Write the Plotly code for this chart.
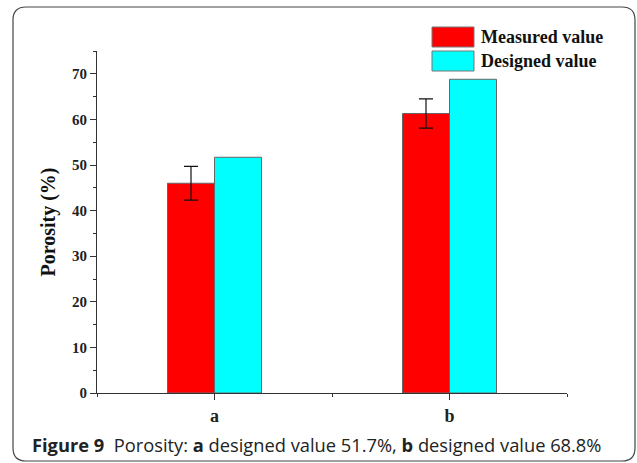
import plotly.graph_objects as go

# Porosity data
categories = ["a", "b"]
measured = [46.0, 61.3]
measured_err = [3.7, 3.2]
designed = [51.7, 68.8]
series_names = ["Measured value", "Designed value"]
y_ticks = [0, 10, 20, 30, 40, 50, 60, 70]

W, H = 637, 463
L, R, T, B = 97, 70, 51, 70
PW, PH = W - L - R, H - T - B


def px(x):
    return (x - L) / PW


def py(y):
    return (H - B - y) / PH


serif = "Liberation Serif, Times New Roman, serif"
axis_col = "#333333"
xpos = list(range(len(categories)))

fig = go.Figure()
fig.add_trace(go.Bar(
    x=xpos, y=measured, name=series_names[0],
    marker=dict(color="#ff0000", line=dict(color="#666666", width=1)),
    error_y=dict(type="data", array=measured_err, color="#111111", thickness=1.2, width=7),
    showlegend=False,
))
fig.add_trace(go.Bar(
    x=xpos, y=designed, name=series_names[1],
    marker=dict(color="#00ffff", line=dict(color="#666666", width=1)),
    showlegend=False,
))

# Legend drawn as swatches + labels
colors = ["#ff0000", "#00ffff"]
for i, (name, c) in enumerate(zip(series_names, colors)):
    top = 27 + i * 24
    fig.add_shape(type="rect", xref="paper", yref="paper",
                  x0=px(432), x1=px(474), y0=py(top), y1=py(top + 20),
                  fillcolor=c, line=dict(color="#777777", width=1))
    fig.add_annotation(xref="paper", yref="paper", x=px(479), y=py(top + 10),
                       xanchor="left", yanchor="middle", showarrow=False,
                       text=f"<b>{name}</b>",
                       font=dict(family=serif, size=18, color="#111111"))

# Rounded frame around figure and caption
x0, x1, y0, y1, r = 13, 635, 7, 461, 13
path = (
    f"M {px(x0 + r)} {py(y0)} L {px(x1 - r)} {py(y0)} "
    f"Q {px(x1)} {py(y0)} {px(x1)} {py(y0 + r)} "
    f"L {px(x1)} {py(y1 - r)} Q {px(x1)} {py(y1)} {px(x1 - r)} {py(y1)} "
    f"L {px(x0 + r)} {py(y1)} Q {px(x0)} {py(y1)} {px(x0)} {py(y1 - r)} "
    f"L {px(x0)} {py(y0 + r)} Q {px(x0)} {py(y0)} {px(x0 + r)} {py(y0)} Z"
)
fig.add_shape(type="path", xref="paper", yref="paper", path=path,
              line=dict(color="#444444", width=1.2), layer="below")

fig.add_annotation(
    xref="paper", yref="paper", x=px(30), y=py(444), xanchor="left", yanchor="middle",
    showarrow=False,
    text="<b>Figure 9</b>\u00a0\u00a0Porosity: <b>a</b> designed value 51.7%, "
         "<b>b</b> designed value 68.8%",
    font=dict(family="Open Sans, sans-serif", size=18.3, color="#222222"),
)

fig.update_layout(
    width=W, height=H,
    margin=dict(l=L, r=R, t=T, b=B, pad=0),
    paper_bgcolor="white", plot_bgcolor="white",
    barmode="group", bargap=0.6, bargroupgap=0,
    xaxis=dict(
        range=[-0.5, 1.5], tickmode="array", tickvals=xpos,
        ticktext=[f"<b>{c}</b>" for c in categories],
        tickfont=dict(family=serif, size=18, color="#222222"),
        showline=True, linecolor=axis_col, linewidth=1.2,
        ticks="outside", ticklen=6, tickwidth=1.2, tickcolor=axis_col,
        minor=dict(tickvals=[-0.5, 0.5, 1.5], ticks="outside", ticklen=3,
                   tickwidth=1.2, tickcolor=axis_col),
        showgrid=False, zeroline=False,
    ),
    yaxis=dict(
        range=[0, 75], tickmode="array", tickvals=y_ticks,
        tickfont=dict(family=serif, size=15, color="#222222", weight="bold"),
        showline=True, linecolor=axis_col, linewidth=1.2,
        ticks="outside", ticklen=6, tickwidth=1.2, tickcolor=axis_col,
        minor=dict(dtick=5, tick0=0, ticks="outside", ticklen=3,
                   tickwidth=1.2, tickcolor=axis_col),
        showgrid=False, zeroline=False,
        title=dict(text="<b>Porosity (%)</b>",
                   font=dict(family=serif, size=20, color="#111111"), standoff=10),
    ),
)

fig.write_html("out.html")
